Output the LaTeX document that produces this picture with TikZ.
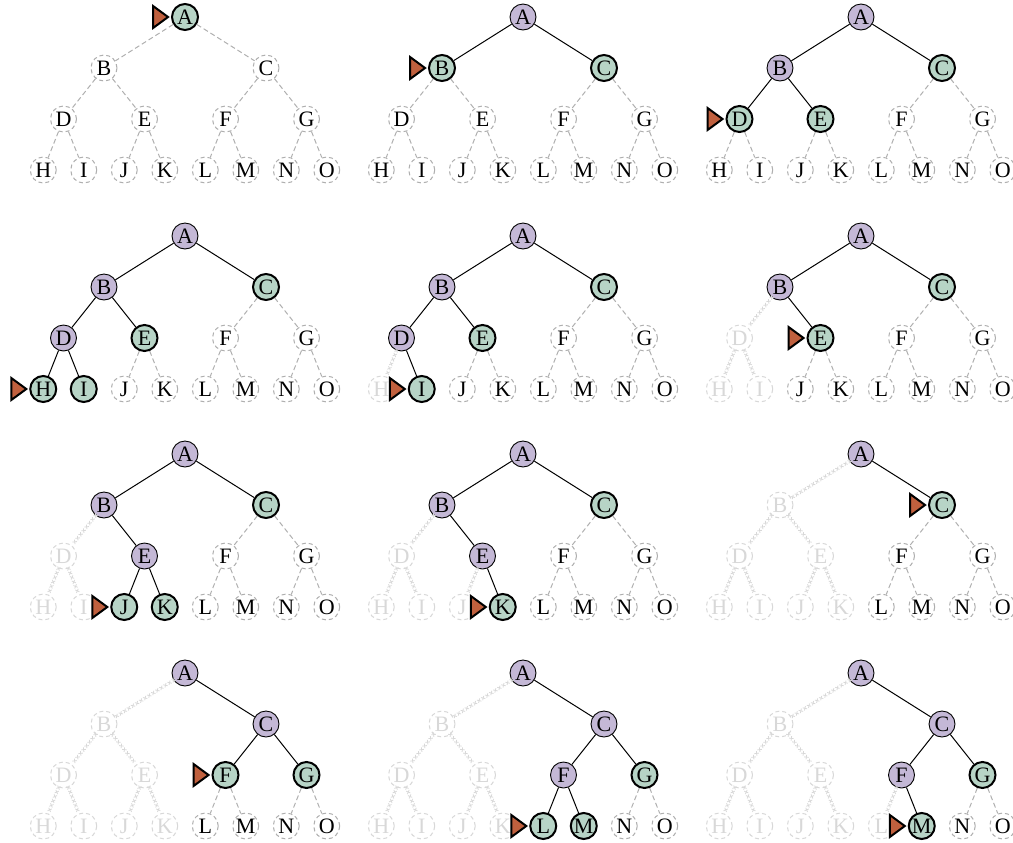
\documentclass[tikz,border=0pt]{standalone}
\usepackage{fontspec}
\setmainfont{Liberation Serif}
\usepackage{xcolor}
\usetikzlibrary{shapes.geometric}
\usetikzlibrary{decorations.shapes}
\definecolor{frontgreen}{RGB}{183,212,198}
\definecolor{donepurple}{RGB}{196,184,214}
\definecolor{markred}{RGB}{192,96,62}
\definecolor{linegray}{RGB}{175,175,175}
\definecolor{gonegray}{RGB}{216,216,216}
% #1 panel name, #2 origin, #3 node states A..O, #4 marked node
\newcommand{\dfspanel}[4]{%
\begin{scope}[shift={(#2)}]
\foreach \lt [count=\i] in {A,...,O}{
  \pgfmathsetmacro{\st}{{#3}[\i-1]}
  \pgfmathtruncatemacro{\lvl}{(\i>1)+(\i>3)+(\i>7)}
  \pgfmathsetmacro{\px}{((\i-2^\lvl)+0.5)*8/2^\lvl*40.5-162}
  \node[vis-\st] (#1\lt) at (\px,\lvl*51) {\lt};
}
\foreach \lt [count=\i from 2] in {B,...,O}{
  \pgfmathtruncatemacro{\pidx}{floor(\i/2)}
  \pgfmathsetmacro{\pl}{{"A","B","C","D","E","F","G"}[\pidx-1]}
  \pgfmathsetmacro{\st}{{#3}[\i-1]}
  \draw[lnk-\st] (#1\pl) -- (#1\lt);
}
\node[marker] (#1mk) at ([xshift=-0.6pt]#1#4.west) {};
\end{scope}}

\begin{document}
\begin{tikzpicture}[x=0.5pt,y=-0.5pt]
\tikzstyle{every node}=[circle,minimum size=13pt,inner sep=0pt,font=\fontsize{11}{13}\selectfont]
\tikzstyle{vis-u}=[draw=linegray,dash pattern=on 2pt off 1.5pt,line width=0.5pt,fill=white]
\tikzstyle{vis-f}=[draw=black,line width=1pt,fill=frontgreen]
\tikzstyle{vis-e}=[draw=black,line width=0.45pt,fill=donepurple]
\tikzstyle{vis-r}=[draw=gonegray,dash pattern=on 2pt off 1.5pt,line width=0.5pt,text=gonegray,fill=white]
\tikzstyle{lnk-u}=[draw=linegray,dash pattern=on 2.5pt off 1.5pt,line width=0.5pt]
\tikzstyle{lnk-f}=[draw=black,line width=0.5pt]
\tikzstyle{lnk-e}=[draw=black,line width=0.5pt]
\tikzstyle{lnk-r}=[draw=gonegray,line width=0.4pt,decorate,decoration={crosses,segment length=2.4pt,shape size=1.6pt}]
\tikzstyle{marker}=[isosceles triangle,isosceles triangle apex angle=70,isosceles triangle stretches,
  minimum width=11pt,minimum height=7.5pt,anchor=apex,draw=black,line width=1pt,fill=markred]
\useasboundingbox (0,0) rectangle (1013,842);

\dfspanel{p1}{185,17}{"f","u","u","u","u","u","u","u","u","u","u","u","u","u","u"}{A}
\dfspanel{p2}{523,17}{"e","f","f","u","u","u","u","u","u","u","u","u","u","u","u"}{B}
\dfspanel{p3}{861,17}{"e","e","f","f","f","u","u","u","u","u","u","u","u","u","u"}{D}
\dfspanel{p4}{185,236}{"e","e","f","e","f","u","u","f","f","u","u","u","u","u","u"}{H}
\dfspanel{p5}{523,236}{"e","e","f","e","f","u","u","r","f","u","u","u","u","u","u"}{I}
\dfspanel{p6}{861,236}{"e","e","f","r","f","u","u","r","r","u","u","u","u","u","u"}{E}
\dfspanel{p7}{185,454}{"e","e","f","r","e","u","u","r","r","f","f","u","u","u","u"}{J}
\dfspanel{p8}{523,454}{"e","e","f","r","e","u","u","r","r","r","f","u","u","u","u"}{K}
\dfspanel{p9}{861,454}{"e","r","f","r","r","u","u","r","r","r","r","u","u","u","u"}{C}
\dfspanel{p10}{185,673}{"e","r","e","r","r","f","f","r","r","r","r","u","u","u","u"}{F}
\dfspanel{p11}{523,673}{"e","r","e","r","r","e","f","r","r","r","r","f","f","u","u"}{L}
\dfspanel{p12}{861,673}{"e","r","e","r","r","e","f","r","r","r","r","r","f","u","u"}{M}
\end{tikzpicture}
\end{document}
